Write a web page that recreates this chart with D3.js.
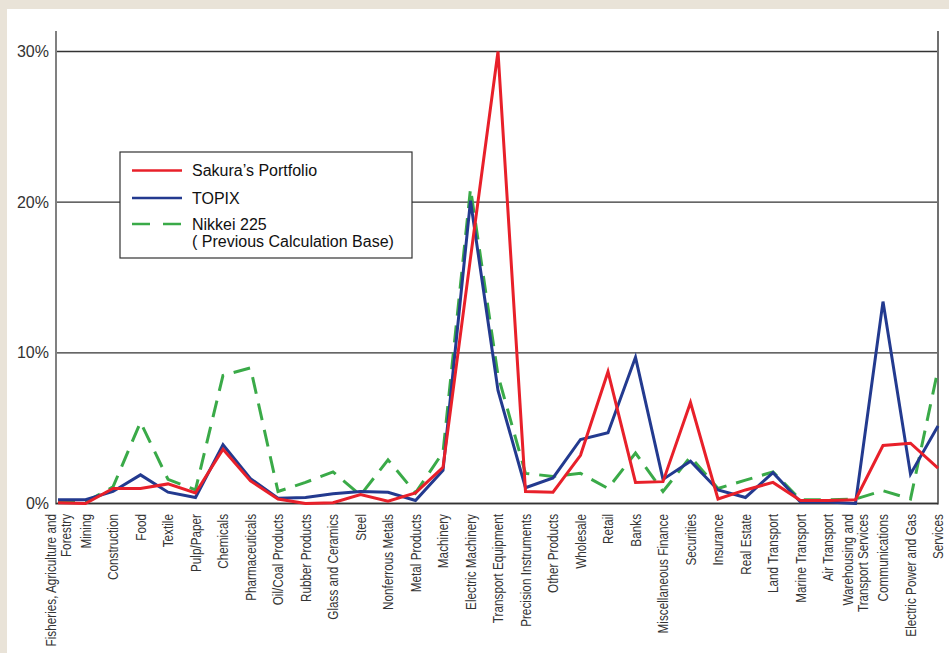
<!DOCTYPE html>
<html><head><meta charset="utf-8">
<script src="https://cdn.jsdelivr.net/npm/d3@7"></script>
<style>
html,body{margin:0;padding:0;background:#e9e3d8;}
svg{display:block;}
</style></head>
<body>
<svg id="chart" width="949" height="653"></svg>
<script>
const categories = [
  "Fisheries, Agriculture and|Forestry","Mining","Construction","Food","Textile","Pulp/Paper",
  "Chemicals","Pharmaceuticals","Oil/Coal Products","Rubber Products","Glass and Ceramics","Steel",
  "Nonferrous Metals","Metal Products","Machinery","Electric Machinery","Transport Equipment",
  "Precision Instruments","Other Products","Wholesale","Retail","Banks","Miscellaneous Finance",
  "Securities","Insurance","Real Estate","Land Transport","Marine Transport","Air Transport",
  "Warehousing and|Transport Services","Communications","Electric Power and Gas","Services"
];
const sakura = [0.05,0.0,1.0,1.0,1.3,0.7,3.6,1.5,0.3,0.0,0.05,0.6,0.15,0.7,2.4,16.3,30.0,
  0.8,0.75,3.2,8.75,1.4,1.45,6.7,0.3,0.9,1.4,0.2,0.2,0.25,3.85,4.0,2.35];
const topix = [0.25,0.25,0.8,1.9,0.75,0.4,3.9,1.65,0.35,0.4,0.65,0.8,0.75,0.2,2.2,20.1,7.5,
  1.05,1.7,4.25,4.7,9.7,1.6,2.8,0.9,0.4,2.05,0.1,0.1,0.0,13.4,1.95,5.15];
const nikkei = [0.1,0.1,1.1,5.4,1.6,0.9,8.5,9.0,0.8,1.4,2.1,0.55,2.9,0.7,3.4,20.9,8.5,
  2.0,1.8,2.0,1.0,3.35,0.8,3.1,1.0,1.55,2.1,0.25,0.25,0.3,0.85,0.3,8.9];
const yTicks = [0,10,20,30];
const seriesNames = ["Sakura\u2019s Portfolio","TOPIX","Nikkei 225|( Previous Calculation Base)"];

const svg = d3.select("#chart");
svg.append("rect").attr("x",7).attr("y",9).attr("width",942).attr("height",644).attr("fill","#ffffff");

const x = d3.scalePoint().domain(d3.range(categories.length)).range([58,938]);
const y = d3.scaleLinear().domain([0,30]).range([503.5,51.5]);

svg.append("g").selectAll("line").data(yTicks).join("line")
  .attr("x1",57).attr("x2",938).attr("y1",d=>y(d)).attr("y2",d=>y(d))
  .attr("stroke","#333").attr("stroke-width",1.4);

svg.append("line").attr("x1",56).attr("x2",56).attr("y1",31).attr("y2",y(0)+1)
  .attr("stroke","#808080").attr("stroke-width",2);
svg.append("line").attr("x1",938).attr("x2",938).attr("y1",31).attr("y2",y(0)+1)
  .attr("stroke","#707070").attr("stroke-width",2);
svg.append("line").attr("x1",56).attr("x2",938).attr("y1",y(0)).attr("y2",y(0))
  .attr("stroke","#333").attr("stroke-width",1.6);

svg.append("g").selectAll("text").data(yTicks).join("text")
  .attr("x",49).attr("y",d=>y(d)).attr("dy","0.35em").attr("text-anchor","end")
  .attr("font-family","Liberation Sans, Arial, sans-serif").attr("font-size",16)
  .attr("fill","#333").text(d=>d+"%");

const xl = svg.append("g").attr("font-family","'Liberation Sans', Arial, sans-serif")
  .attr("font-size",14.5).attr("fill","#333");
categories.forEach((c,i)=>{
  const lines = c.split("|");
  const n = lines.length;
  lines.forEach((ln,j)=>{
    const off = (j-(n-1)/2)*15;
    const cx = x(i)+off;
    xl.append("text").attr("transform",`translate(${cx},514) rotate(-90) scale(0.81,1)`)
      .attr("text-anchor","end").attr("dy","0.35em").text(ln);
  });
});

const line = d3.line().x((d,i)=>x(i)).y(d=>y(d)).curve(d3.curveLinear);
svg.append("path").datum(nikkei).attr("d",line).attr("fill","none")
  .attr("stroke","#3aaa48").attr("stroke-width",3).attr("stroke-dasharray","17,10");
svg.append("path").datum(topix).attr("d",line).attr("fill","none")
  .attr("stroke","#233a8f").attr("stroke-width",3).attr("stroke-linejoin","miter");
svg.append("path").datum(sakura).attr("d",line).attr("fill","none")
  .attr("stroke","#e8202a").attr("stroke-width",3).attr("stroke-linejoin","miter");

const lg = svg.append("g");
lg.append("rect").attr("x",120).attr("y",152).attr("width",292).attr("height",106)
  .attr("fill","#fff").attr("stroke","#333").attr("stroke-width",1.2);
const legendColors = ["#e8202a","#233a8f","#3aaa48"];
const legendY = [170.5,198,224];
seriesNames.forEach((s,i)=>{
  lg.append("line").attr("x1",132).attr("x2",182).attr("y1",legendY[i]).attr("y2",legendY[i])
    .attr("stroke",legendColors[i]).attr("stroke-width",2.5)
    .attr("stroke-dasharray", i===2 ? "18,13" : null);
  s.split("|").forEach((t,j)=>{
    lg.append("text").attr("x",192).attr("y",legendY[i]+j*17.5).attr("dy","0.35em")
      .attr("font-family","Liberation Sans, Arial, sans-serif").attr("font-size",16)
      .attr("fill","#111").text(t);
  });
});
</script>
</body></html>
